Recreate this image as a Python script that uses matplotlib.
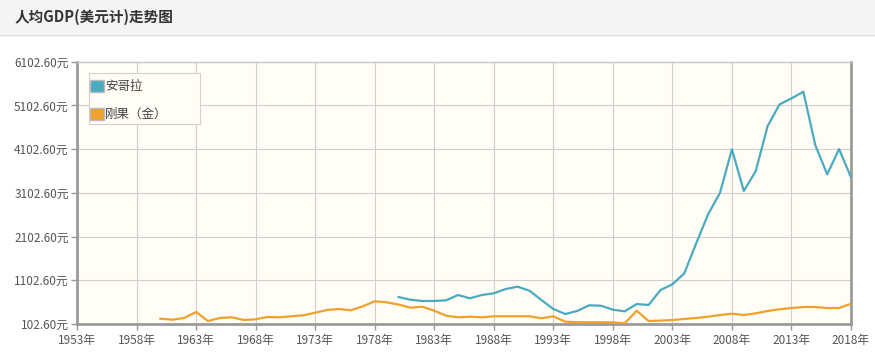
import matplotlib
matplotlib.use("Agg")
import matplotlib.pyplot as plt
from matplotlib.patches import Patch, Rectangle
from matplotlib.lines import Line2D

plt.rcParams['font.family'] = ['Noto Sans CJK SC', 'DejaVu Sans']

title = "人均GDP(美元计)走势图"
legend_labels = ["安哥拉", "刚果（金）"]

angola_years = list(range(1980, 2019))
angola_values = [720, 658, 629, 629, 645, 766, 690, 766, 805, 903,
                 956, 864, 651, 446, 331, 400, 530, 521, 430, 393,
                 560, 537, 880, 1010, 1262, 1948, 2611, 3105, 4098, 3144,
                 3602, 4631, 5127, 5264, 5415, 4196, 3526, 4105, 3457]

congo_years = list(range(1960, 2019))
congo_values = [224, 201, 240, 377, 171, 240, 256, 194, 210, 263,
                256, 279, 302, 361, 423, 446, 416, 508, 622, 599,
                548, 476, 498, 407, 292, 256, 270, 256, 279, 279,
                279, 279, 233, 279, 155, 145, 142, 142, 140, 118,
                407, 171, 180, 194, 217, 240, 270, 308, 338, 308,
                347, 400, 439, 468, 491, 491, 468, 468, 567]

x_ticks = list(range(1953, 2019, 5))
x_labels = [f"{y}年" for y in x_ticks]
y_ticks = [102.6 + 1000 * k for k in range(7)]
y_labels = [f"{v:.2f}元" for v in y_ticks]

teal = "#4aabc0"
orange = "#f0a12c"

W, H = 875, 353
fig = plt.figure(figsize=(W / 100, H / 100), dpi=100)
fig.patch.set_facecolor("white")

def fx(px):
    return px / W

def fy(py):
    return 1 - py / H

# title bar
fig.add_artist(Rectangle((0, fy(34)), 1, 34 / H, transform=fig.transFigure,
                         facecolor="#f4f4f4", edgecolor="none", zorder=0))
fig.add_artist(Line2D([0, 1], [fy(34.5)] * 2, transform=fig.transFigure,
                      color="#dcdcdc", lw=1))
fig.text(fx(15), fy(17), title, fontsize=10.5, fontweight="bold",
         color="#333333", va="center", ha="left")

ax = fig.add_axes([fx(77), fy(324), (851 - 77) / W, (324 - 61.7) / H])
ax.set_facecolor("#fffdf5")

ax.plot(angola_years, angola_values, color=teal, lw=1.6, zorder=3)
ax.plot(congo_years, congo_values, color=orange, lw=1.6, zorder=3)

ax.set_xlim(1953, 2018)
ax.set_ylim(102.6, 6102.6)
ax.set_xticks(x_ticks)
ax.set_xticklabels(x_labels)
ax.set_yticks(y_ticks)
ax.set_yticklabels(y_labels)
ax.grid(True, color="#cfcfcf", lw=0.8)
ax.set_axisbelow(True)
ax.tick_params(axis="both", colors="#999999", labelcolor="#555555", labelsize=8.5,
               length=4, width=1)
ax.tick_params(axis="x", pad=3)
ax.tick_params(axis="y", pad=2)

for side in ["left", "bottom", "right"]:
    ax.spines[side].set_color("#9a9a9a")
    ax.spines[side].set_linewidth(2)
ax.spines["top"].set_color("#c8c8c8")
ax.spines["top"].set_linewidth(1)

# legend frame
frame = Rectangle((fx(89), fy(124)), (200 - 89) / W, (124 - 73) / H,
                  transform=fig.transFigure, facecolor="#fffdf5",
                  edgecolor="#d0d0d0", lw=0.8, zorder=4, clip_on=False)
ax.add_artist(frame)
handles = [Patch(facecolor=teal, edgecolor="#bbbbbb"),
           Patch(facecolor=orange, edgecolor="#bbbbbb")]
leg = ax.legend(handles, legend_labels, loc="upper left",
                bbox_to_anchor=(fx(90), fy(80)), bbox_transform=fig.transFigure,
                frameon=False, fontsize=9, handlelength=1.1, handleheight=1.1,
                handletextpad=0.1, labelspacing=1.15, borderpad=0,
                borderaxespad=0)
leg.set_zorder(6)
for t in leg.get_texts():
    t.set_color("#444444")

fig.savefig("out.png", dpi=100)
